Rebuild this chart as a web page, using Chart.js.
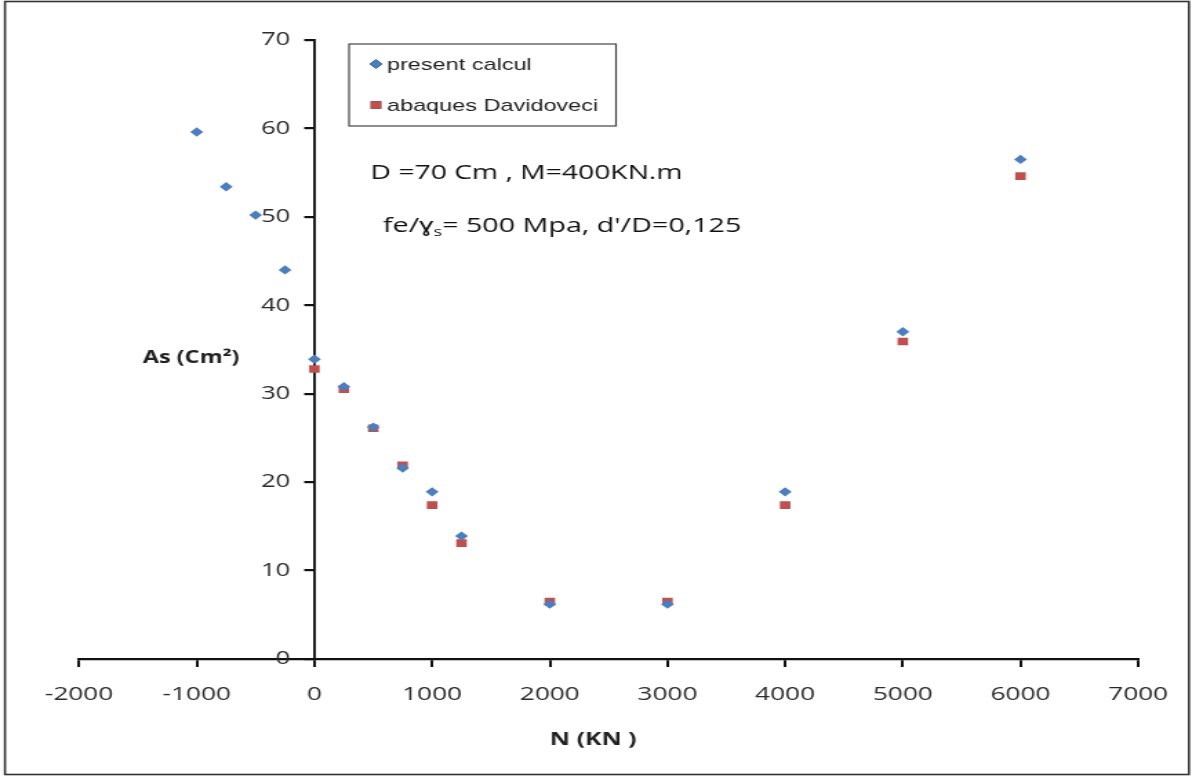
<!DOCTYPE html>
<html>
<head>
<meta charset="utf-8">
<script src="https://cdn.jsdelivr.net/npm/chart.js@4/dist/chart.umd.min.js"></script>
<style>
  html, body { margin: 0; padding: 0; background: #fff; overflow: hidden; }
  #wrap { width: 864px; height: 776px; transform: scaleX(1.3796); transform-origin: 0 0; }
  canvas { display: block; }
</style>
</head>
<body>
<div id="wrap"><canvas id="c" width="864" height="776"></canvas></div>
<script>
// Axial load N (kN)
const nPresent = [-1000, -750, -500, -250, 0, 250, 500, 750, 1000, 1250, 2000, 3000, 4000, 5000, 6000];
const nAbaques = [0, 250, 500, 750, 1000, 1250, 2000, 3000, 4000, 5000, 6000];
// Steel area As (cm²)
const asPresent = [59.6, 53.4, 50.2, 44.0, 33.9, 30.8, 26.2, 21.6, 18.9, 13.9, 6.2, 6.2, 18.9, 37.0, 56.5];
const asAbaques = [32.8, 30.5, 26.1, 21.9, 17.4, 13.1, 6.5, 6.5, 17.4, 35.9, 54.6];

const seriesNames = ['present calcul', 'abaques Davidoveci'];
const xTitle = 'N (KN )';
const yTitle = 'As (Cm²)';
const noteLine1 = 'D =70 Cm , M=400KN.m';
const noteLine2 = ['fe/ɣ', 's', '= 500 Mpa, d\'/D=0,125'];

const toPoints = (xs, ys) => xs.map((x, i) => ({ x: x, y: ys[i] }));

const tickColor = '#2a2a2a';

// Linear scale whose labels keep tick length + padding away from an axis
// that is anchored on a value of the other scale.
class CrossedLinearScale extends Chart.LinearScale {
  _computeLabelItems(chartArea) {
    const items = super._computeLabelItems(chartArea);
    const pos = this.options.position;
    if (typeof pos === 'object' && !this.isHorizontal()) {
      const shift = this.options.grid.tickLength + this.options.ticks.padding;
      items.forEach(it => {
        if (it.options && it.options.translation) it.options.translation[0] -= shift;
      });
    }
    return items;
  }
}
CrossedLinearScale.id = 'crossedLinear';
CrossedLinearScale.defaults = Chart.LinearScale.defaults;
Chart.register(CrossedLinearScale);

// Frame, legend box, notes and axis titles
const decor = {
  id: 'decor',
  afterDraw(chart) {
    const ctx = chart.ctx;
    ctx.save();
    // outer frame
    ctx.strokeStyle = '#333';
    ctx.lineWidth = 1.6;
    ctx.strokeRect(3.6, 1.5, 858.2, 773);

    // legend
    ctx.strokeStyle = '#444';
    ctx.lineWidth = 1.2;
    ctx.strokeRect(253, 44, 193.5, 82);
    ctx.font = '17px "Liberation Sans", Arial, sans-serif';
    ctx.textBaseline = 'middle';
    const rows = [64, 105];
    chart.data.datasets.forEach((ds, i) => {
      const o = chart.getDatasetMeta(i).data[0].options;
      Chart.helpers.drawPoint(ctx, {
        pointStyle: o.pointStyle, radius: o.radius, rotation: 0, borderWidth: 0
      }, 272.5, rows[i]);
      ctx.fillStyle = o.backgroundColor;
      ctx.fill();
      ctx.fillStyle = '#222';
      ctx.fillText(ds.label, 280.5, rows[i] + 1);
    });

    // notes
    ctx.fillStyle = '#111';
    ctx.font = '20.5px "Open Sans", sans-serif';
    ctx.textAlign = 'left';
    ctx.fillText(noteLine1, 268.5, 173);
    let x = 277.5;
    ctx.font = '20.8px "Open Sans", sans-serif';
    ctx.fillText(noteLine2[0], x, 226);
    x += ctx.measureText(noteLine2[0]).width;
    ctx.font = '13px "Open Sans", sans-serif';
    ctx.fillText(noteLine2[1], x, 232);
    x += ctx.measureText(noteLine2[1]).width;
    ctx.font = '20.8px "Open Sans", sans-serif';
    ctx.fillText(noteLine2[2], x, 226);

    // axis titles
    ctx.font = 'bold 17px "Open Sans", sans-serif';
    ctx.fillStyle = '#222';
    ctx.fillText(yTitle, 103.5, 358);
    ctx.textAlign = 'center';
    ctx.font = 'bold 18px "Open Sans", sans-serif';
    ctx.fillText(xTitle, 430, 740);
    ctx.restore();
  }
};

const plain = v => String(v);

new Chart(document.getElementById('c'), {
  type: 'scatter',
  data: {
    datasets: [
      {
        label: seriesNames[0],
        data: toPoints(nPresent, asPresent),
        pointStyle: 'rectRot',
        radius: 4.7,
        backgroundColor: '#4A7EBF',
        borderWidth: 0
      },
      {
        label: seriesNames[1],
        data: toPoints(nAbaques, asAbaques),
        pointStyle: 'rect',
        radius: 5.4,
        backgroundColor: '#C0504D',
        borderWidth: 0
      }
    ]
  },
  options: {
    responsive: false,
    animation: false,
    devicePixelRatio: 1,
    layout: { padding: { left: 57.3, right: 39, top: 40, bottom: 0 } },
    plugins: { legend: { display: false }, tooltip: { enabled: false } },
    scales: {
      x: {
        type: 'linear',
        position: 'bottom',
        min: -2000, max: 7000,
        ticks: { stepSize: 1000, font: { family: '"Open Sans", sans-serif', size: 19 }, color: tickColor, padding: 16, maxRotation: 0, callback: plain },
        grid: { drawOnChartArea: false, drawTicks: true, tickLength: 8, color: '#111', lineWidth: 2 },
        border: { display: true, color: '#111', width: 2.2 },
        afterFit(s) { s.height = 117; }
      },
      y: {
        type: 'crossedLinear',
        position: { x: 0 },
        min: 0, max: 70,
        ticks: { stepSize: 10, font: { family: '"Open Sans", sans-serif', size: 18.5 }, color: tickColor, padding: 11, callback: plain },
        grid: { drawOnChartArea: false, drawTicks: true, tickLength: 6.5, color: '#111', lineWidth: 2.2 },
        border: { display: true, color: '#111', width: 1.9 }
      }
    }
  },
  plugins: [decor]
});
</script>
</body>
</html>
